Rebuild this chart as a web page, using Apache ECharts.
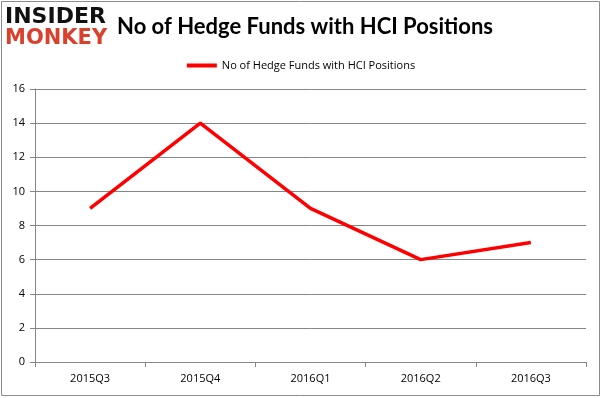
<!DOCTYPE html>
<html>
<head>
<meta charset="utf-8">
<script src="https://cdn.jsdelivr.net/npm/echarts@6/dist/echarts.min.js"></script>
<style>
  html, body { margin: 0; padding: 0; background: #fff; }
  #main { width: 602px; height: 398px; }
</style>
</head>
<body>
<div id="main"></div>
<script>
// chart data
var quarters = ['2015Q3', '2015Q4', '2016Q1', '2016Q2', '2016Q3'];
var fundCounts = [9, 14, 9, 6, 7];
var seriesName = 'No of Hedge Funds with HCI Positions';

var chart = echarts.init(document.getElementById('main'), null, { renderer: 'canvas' });

chart.setOption({
  animation: false,
  backgroundColor: '#fff',
  title: {
    text: seriesName,
    left: 300,
    textAlign: 'center',
    top: 11,
    textStyle: {
      fontFamily: 'Lato',
      fontWeight: 'bold',
      fontSize: 22,
      color: '#000'
    }
  },
  legend: {
    top: 55,
    left: 'center',
    itemWidth: 30,
    itemHeight: 4,
    icon: 'rect',
    itemGap: 4,
    textStyle: { fontFamily: 'Open Sans', fontSize: 11, color: '#000' },
    data: [seriesName]
  },
  graphic: [
    {
      type: 'rect',
      shape: { x: 1.5, y: 1.5, width: 598, height: 394 },
      style: { fill: 'none', stroke: '#8c8c8c', lineWidth: 1 }
    },
    {
      type: 'text',
      left: 5, top: 6,
      style: { text: 'INSIDER', fontFamily: 'DejaVu Sans', fontWeight: 'bold', fontSize: 22, fill: '#111' }
    },
    {
      type: 'text',
      left: 5, top: 28,
      style: { text: 'MONKEY', fontFamily: 'DejaVu Sans', fontWeight: 'bold', fontSize: 21, fill: '#d9412c' }
    }
  ],
  grid: {
    left: 35,
    right: 16,
    top: 89,
    bottom: 36,
    containLabel: false
  },
  xAxis: {
    type: 'category',
    data: quarters,
    boundaryGap: true,
    axisLine: { lineStyle: { color: '#868686' } },
    axisTick: { show: true, length: 5, lineStyle: { color: '#868686' } },
    axisLabel: { fontFamily: 'Open Sans', fontSize: 11, color: '#000', margin: 11 }
  },
  yAxis: {
    type: 'value',
    min: 0,
    max: 16,
    interval: 2,
    axisLine: { show: true, lineStyle: { color: '#868686' } },
    axisTick: { show: true, length: 5, lineStyle: { color: '#868686' } },
    axisLabel: { fontFamily: 'Open Sans', fontSize: 11, color: '#000', margin: 10 },
    splitLine: { lineStyle: { color: '#868686' } }
  },
  series: [{
    name: seriesName,
    type: 'line',
    data: fundCounts,
    symbol: 'none',
    lineStyle: { color: '#ff0000', width: 3.5 },
    itemStyle: { color: '#ff0000' }
  }]
});
</script>
</body>
</html>
